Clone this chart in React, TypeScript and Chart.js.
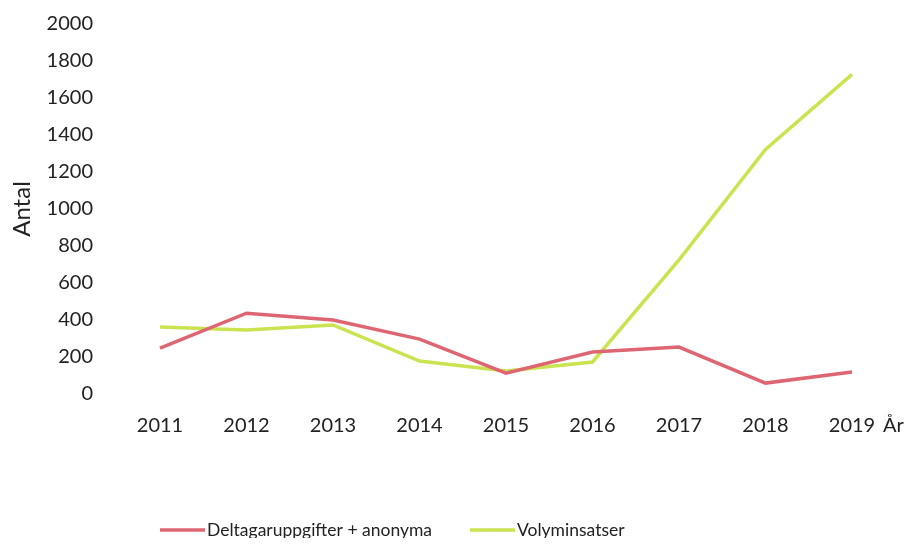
import React, { useEffect, useRef } from "react";
import { Chart, registerables } from "chart.js";

Chart.register(...registerables);

const years = ["2011", "2012", "2013", "2014", "2015", "2016", "2017", "2018", "2019"];
const deltagare = [248, 437, 400, 297, 113, 227, 254, 59, 119];
const volym = [362, 346, 373, 178, 124, 173, 725, 1322, 1728];
const seriesNames = ["Deltagaruppgifter + anonyma", "Volyminsatser"];
const yTicks = [0, 200, 400, 600, 800, 1000, 1200, 1400, 1600, 1800, 2000];

const FONT = "Lato";
const TEXT = "#222";

const extras = {
  id: "extras",
  afterDraw(chart: any) {
    const ctx = chart.ctx;
    const xs = chart.scales.x;
    const area = chart.chartArea;
    ctx.save();
    ctx.font = `20px ${FONT}`;
    ctx.fillStyle = TEXT;
    ctx.textBaseline = "middle";
    ctx.textAlign = "left";
    const lastX = xs.getPixelForValue(years.length - 1);
    ctx.fillText("År", lastX + 31, area.bottom + 32);
    // legend
    const ly = 522;
    const items = [
      { x: 152, w: 45 },
      { x: 462, w: 45 },
    ];
    ctx.font = `17.5px ${FONT}`;
    chart.data.datasets.forEach((ds: any, i: number) => {
      const it = items[i];
      ctx.strokeStyle = ds.borderColor;
      ctx.lineWidth = 3.5;
      ctx.beginPath();
      ctx.moveTo(it.x, ly);
      ctx.lineTo(it.x + it.w, ly);
      ctx.stroke();
      ctx.fillStyle = TEXT;
      ctx.fillText(ds.label, it.x + it.w + 2, ly);
    });
    ctx.restore();
  },
};

export default function App() {
  const ref = useRef<HTMLCanvasElement | null>(null);
  useEffect(() => {
    if (!ref.current) return;
    const chart = new Chart(ref.current, {
      type: "line",
      data: {
        labels: years,
        datasets: [
          {
            label: seriesNames[0],
            data: deltagare,
            borderColor: "#de6673",
            backgroundColor: "#de6673",
            borderWidth: 3.5,
            pointRadius: 0,
            tension: 0,
          },
          {
            label: seriesNames[1],
            data: volym,
            borderColor: "#cae350",
            backgroundColor: "#cae350",
            borderWidth: 3.5,
            pointRadius: 0,
            tension: 0,
          },
        ],
      },
      options: {
        animation: false,
        responsive: false,
        maintainAspectRatio: false,
        layout: { padding: { left: 0, right: 53, top: 16, bottom: 80 } },
        plugins: {
          legend: { display: false },
          tooltip: { enabled: false },
        },
        scales: {
          x: {
            offset: false,
            grid: { display: false, drawTicks: false },
            border: { display: false },
            ticks: { color: TEXT, font: { family: FONT, size: 20 }, padding: 20, maxRotation: 0 },
          },
          y: {
            min: 0,
            max: 2000,
            afterBuildTicks(scale: any) {
              scale.ticks = yTicks.map((v) => ({ value: v }));
            },
            grid: { display: false, drawTicks: false },
            border: { display: false },
            ticks: {
              color: TEXT,
              font: { family: FONT, size: 20 },
              padding: 67,
              callback: (v: any) => String(v),
            },
            title: { display: true, text: "Antal", color: TEXT, font: { family: FONT, size: 24 }, padding: { top: 0, bottom: 0 } },
            afterFit(scale: any) {
              scale.width = 152;
              scale.paddingTop = 0;
              scale.paddingBottom = 0;
            },
          },
        },
      },
      plugins: [extras],
    });
    return () => chart.destroy();
  }, []);
  return (
    <div style={{ position: "relative", width: 897, height: 530 }}>
      <canvas ref={ref} width={897} height={530} style={{ width: 897, height: 530 }} />
    </div>
  );
}
